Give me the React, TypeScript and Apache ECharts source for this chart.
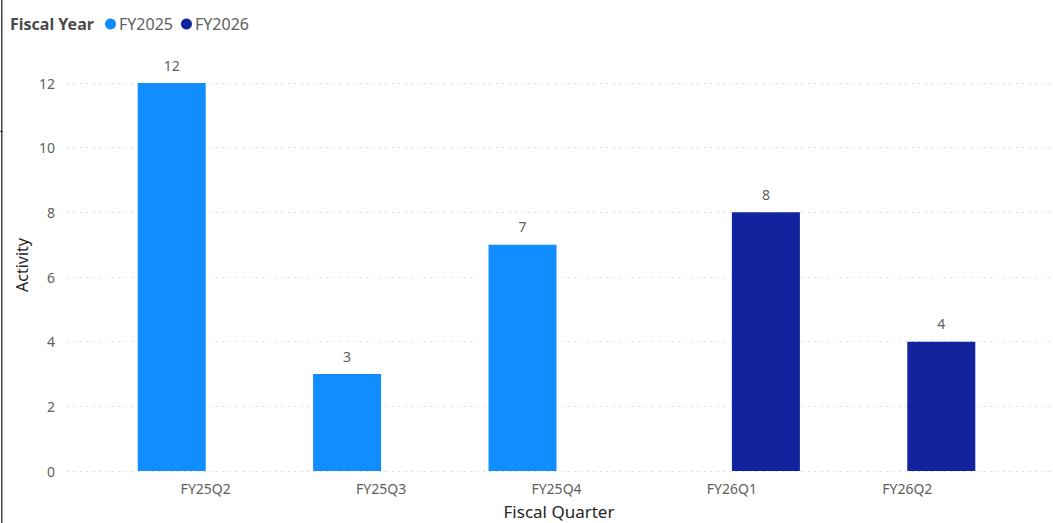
import React, { useEffect, useRef } from "react";
import * as echarts from "echarts";

const categories = ["FY25Q2", "FY25Q3", "FY25Q4", "FY26Q1", "FY26Q2"];
const fy2025 = [12, 3, 7, null, null];
const fy2026 = [null, null, null, 8, 4];
const seriesNames = ["FY2025", "FY2026"];
const yMin = 0;
const yMax = 12;
const yInterval = 2;

const FONT = "'Noto Sans', 'Open Sans', sans-serif";
const GRAY = "#605E5C";

export default function App() {
  const ref = useRef<HTMLDivElement>(null);
  useEffect(() => {
    if (!ref.current) return;
    const chart = echarts.init(ref.current, undefined, { renderer: "svg" });
    const top = 83;
    const bottom = 52;
    chart.setOption({
      animation: false,
      backgroundColor: "#ffffff",
      textStyle: { fontFamily: FONT },
      legend: {
        left: 105,
        top: 16,
        padding: 0,
        itemWidth: 11,
        itemHeight: 11,
        itemGap: 8,
        icon: "circle",
        data: seriesNames,
        textStyle: { color: GRAY, fontSize: 16, fontFamily: FONT, padding: [0, 0, 0, -2] },
      },
      grid: [
        { left: 67, right: 3, top, bottom, containLabel: false },
        { left: 118, right: 58, top, bottom, containLabel: false },
      ],
      xAxis: [
        { gridIndex: 0, type: "value", show: false, min: 0, max: 1 },
        {
          gridIndex: 1,
          type: "category",
          data: categories,
          axisLine: { show: false },
          axisTick: { show: false },
          axisLabel: { color: GRAY, fontSize: 14, margin: 10, fontFamily: FONT },
        },
      ],
      yAxis: [
        {
          gridIndex: 0,
          type: "value",
          min: yMin,
          max: yMax,
          interval: yInterval,
          axisLine: { show: false },
          axisTick: { show: false },
          axisLabel: { color: GRAY, fontSize: 14, margin: 12, fontFamily: FONT },
          splitLine: { lineStyle: { color: "#d6d6d6", type: [1.5, 5], width: 1 } },
        },
        {
          gridIndex: 1,
          type: "value",
          min: yMin,
          max: yMax,
          interval: yInterval,
          show: false,
          splitLine: { show: false },
        },
      ],
      series: [
        {
          name: seriesNames[0],
          type: "bar",
          xAxisIndex: 1,
          yAxisIndex: 1,
          data: fy2025,
          barWidth: 68,
          barGap: "0%",
          itemStyle: { color: "#118DFF" },
          label: { show: true, position: "top", distance: 11, color: GRAY, fontSize: 14, fontFamily: FONT },
        },
        {
          name: seriesNames[1],
          type: "bar",
          xAxisIndex: 1,
          yAxisIndex: 1,
          data: fy2026,
          barWidth: 68,
          barGap: "0%",
          itemStyle: { color: "#12239E" },
          label: { show: true, position: "top", distance: 11, color: GRAY, fontSize: 14, fontFamily: FONT },
        },
      ],
      graphic: [
        {
          type: "text",
          x: 10,
          y: 24,
          style: { text: "Fiscal Year", fill: "#4a4a4a", font: `bold 16px ${FONT}`, verticalAlign: "middle" },
        },
        {
          type: "text",
          x: 22,
          y: 265,
          rotation: Math.PI / 2,
          style: {
            text: "Activity",
            fill: "#252423",
            font: `16px ${FONT}`,
            align: "center",
            verticalAlign: "middle",
          },
        },
        {
          type: "text",
          x: 559,
          y: 511,
          style: {
            text: "Fiscal Quarter",
            fill: "#252423",
            font: `17px ${FONT}`,
            align: "center",
            verticalAlign: "middle",
          },
        },
        {
          type: "rect",
          shape: { x: 1, y: 0, width: 1.5, height: 523 },
          style: { fill: "#444444" },
        },
        {
          type: "rect",
          shape: { x: 0, y: 131, width: 3, height: 1 },
          style: { fill: "#444444" },
        },
      ],
    });
    return () => chart.dispose();
  }, []);
  return (
    <div
      ref={ref}
      style={{ position: "fixed", left: 0, top: 0, width: 1053, height: 523 }}
    />
  );
}
